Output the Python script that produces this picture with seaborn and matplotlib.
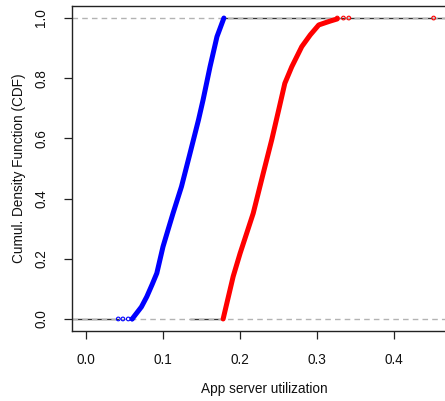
import numpy as np
import matplotlib
matplotlib.use("Agg")
import matplotlib.pyplot as plt
import seaborn as sns

# ECDF points (utilization, cumulative fraction)
blue_x = [0.060, 0.066, 0.072, 0.079, 0.086, 0.092, 0.100, 0.107, 0.113, 0.124, 0.135, 0.146, 0.152, 0.161, 0.170, 0.179]
blue_y = [0.000, 0.020, 0.040, 0.074, 0.115, 0.152, 0.240, 0.300, 0.351, 0.440, 0.550, 0.661, 0.728, 0.838, 0.938, 1.000]
blue_tail_x = [0.042, 0.048, 0.055, 0.060]

red_x = [0.178, 0.191, 0.200, 0.217, 0.230, 0.241, 0.250, 0.258, 0.267, 0.280, 0.291, 0.302, 0.310, 0.317, 0.326]
red_y = [0.000, 0.141, 0.218, 0.351, 0.484, 0.595, 0.694, 0.783, 0.838, 0.905, 0.944, 0.977, 0.984, 0.990, 0.997]
red_tail_x = [0.326, 0.334, 0.341, 0.451]

x_ticks = [0.0, 0.1, 0.2, 0.3, 0.4]
y_ticks = [0.0, 0.2, 0.4, 0.6, 0.8, 1.0]

sns.set_theme(style="white")
plt.rcParams["font.family"] = ["Liberation Sans", "DejaVu Sans"]

fig = plt.figure(figsize=(4.45, 4.01), dpi=100)
ax = fig.add_axes([72 / 445, 70 / 401, 384 / 445, 325 / 401])
xmin, xmax = -0.018, 0.48

# ecdf horizontal extensions
ax.plot([xmin, blue_tail_x[0]], [0, 0], color="#333333", lw=1.0, zorder=1)
ax.plot([0.135, red_x[0]], [0, 0], color="#333333", lw=1.0, zorder=1)
ax.plot([blue_x[-1], xmax], [1, 1], color="#333333", lw=1.0, zorder=1)

# reference lines at 0 and 1
for h in (0, 1):
    ax.axhline(h, color="#b3b3b3", lw=1.0, ls=(0, (4, 3)), zorder=2)

sns.lineplot(x=blue_x, y=blue_y, sort=False, estimator=None, color="blue", lw=3.6,
             solid_capstyle="round", solid_joinstyle="round", ax=ax, zorder=3)
sns.lineplot(x=red_x, y=red_y, sort=False, estimator=None, color="red", lw=3.6,
             solid_capstyle="round", solid_joinstyle="round", ax=ax, zorder=3)
sns.scatterplot(x=blue_tail_x, y=[0] * len(blue_tail_x), s=7, marker="o",
                facecolor="none", edgecolor="blue", linewidth=0.8, ax=ax, zorder=4)
sns.scatterplot(x=red_tail_x, y=[1] * len(red_tail_x), s=7, marker="o",
                facecolor="none", edgecolor="red", linewidth=0.8, ax=ax, zorder=4)

ax.set_xlim(xmin, xmax)
ax.set_ylim(-0.04, 1.04)
ax.set_xticks(x_ticks)
ax.set_xticklabels([f"{t:.1f}" for t in x_ticks])
ax.set_yticks(y_ticks)
ax.set_yticklabels([f"{t:.1f}" for t in y_ticks], rotation=90, va="center")
ax.tick_params(axis="x", pad=10)
ax.tick_params(axis="y", pad=11)
ax.tick_params(axis="both", direction="out", length=6, width=0.9, color="#222222",
               labelsize=9.8, labelcolor="#111111", left=True, bottom=True)
for s in ax.spines.values():
    s.set_color("#222222")
    s.set_linewidth(1.0)

ax.set_xlabel("App server utilization", fontsize=9.8, color="#111111", labelpad=11)
ax.set_ylabel("Cumul. Density Function (CDF)", fontsize=9.8, color="#111111", labelpad=6)

fig.savefig("out.png", dpi=100)
